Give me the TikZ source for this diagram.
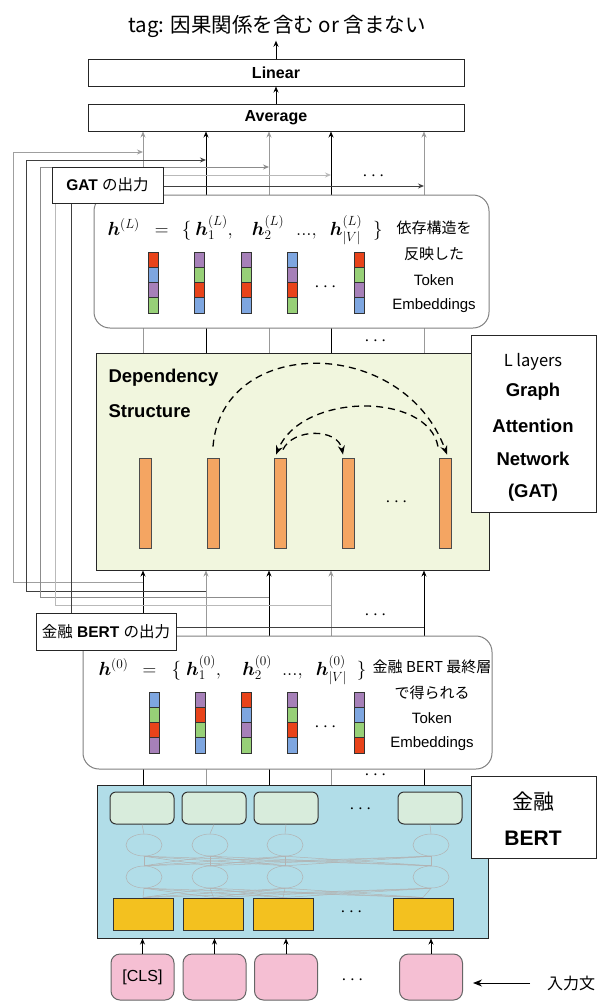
\RequirePackage{fix-cm}
\documentclass[tikz,border=0pt]{standalone}
\usepackage{amsmath,bm}
\usepackage[no-math]{fontspec}
\setmainfont{Liberation Sans}
\newfontfamily\jp{Noto Sans CJK JP}
\usepackage{tikz}
\usetikzlibrary{arrows.meta,shapes.geometric}
\pgfdeclarelayer{bg}
\pgfsetlayers{bg,main}
\definecolor{ered}{HTML}{E8431A}
\definecolor{eblue}{HTML}{7EA6E0}
\definecolor{epurple}{HTML}{A680B8}
\definecolor{egreen}{HTML}{97D077}
\definecolor{gatfill}{HTML}{F1F6DE}
\definecolor{bertfill}{HTML}{B1DDE8}
\definecolor{tokfill}{HTML}{D8ECDC}
\definecolor{embfill}{HTML}{F3C11F}
\definecolor{inpfill}{HTML}{F5BFD3}
\definecolor{depfill}{HTML}{F4A562}
\newcommand{\pxsize}[1]{\fontsize{#1}{#1}\selectfont}

\begin{document}
\begin{tikzpicture}[x=1pt,y=-1pt,>=Stealth,
	box/.style={draw=black!85,line width=1pt,fill=white,inner sep=0pt},
	hbox/.style={draw=black!50,line width=1pt,fill=white,rounded corners=16pt,inner sep=0pt},
	col/.style={line width=0.9pt},
	tip/.style={-{Stealth[length=6pt,width=5pt]}},
	cell/.style={draw=black!80,line width=1pt,inner sep=0pt,minimum width=10pt,minimum height=15.25pt},
	dep/.style={draw=black!70,line width=0.9pt,fill=depfill,inner sep=0pt,minimum width=12pt,minimum height=90pt},
	arc/.style={line width=1.3pt,dash pattern=on 7pt off 5pt,-{Stealth[length=9pt,width=7pt]}},
	tok/.style={draw=black!80,line width=1pt,fill=tokfill,rounded corners=6pt,inner sep=0pt,minimum width=64pt,minimum height=32pt},
	neu/.style={ellipse,draw=gray!60,line width=0.5pt,inner sep=0pt,minimum width=36pt,minimum height=22pt},
	faint/.style={draw=gray!60,line width=0.5pt},
	emb/.style={draw=black!80,line width=1pt,fill=embfill,inner sep=0pt,minimum width=60pt,minimum height=32pt},
	inp/.style={draw=black!60,line width=1pt,fill=inpfill,rounded corners=9pt,inner sep=0pt,minimum width=63pt,minimum height=46pt,font=\pxsize{16}},
	dots/.style={font=\pxsize{19}},
	note/.style={font=\pxsize{15}},
]
\useasboundingbox (0,0) rectangle (598,1001);

% columns
\foreach \c [count=\i] in {143,206,269,331,424}
	\coordinate (k\i) at (\c,0);

% output layers
\node[font=\jp\pxsize{20.5}] (tag) at (277,26) {tag: 因果関係を含む or 含まない};
\node[box,minimum width=376pt,minimum height=27pt,font=\bfseries\pxsize{16}] (lin) at (276,72.5) {Linear};
\node[box,minimum width=376pt,minimum height=27pt,font=\bfseries\pxsize{16}] (avg) at (276,117.5) {Average};
\draw[col,tip] (avg.north) -- (lin.south);
\draw[col,tip] (lin.north) -- (lin.north |- tag.south);

% GAT output
\node[hbox,minimum width=395pt,minimum height=133pt] (hL) at (291.5,261.5) {};
\node[box,minimum width=111pt,minimum height=36pt,font=\pxsize{15.5}] (gatout) at (107.5,185) {{\bfseries GAT} {\jp の出力}};
\node[anchor=west,font=\pxsize{19}] (fL) at (104,230) {$\bm{h}^{(L)}\hspace{10pt}=\hspace{8pt}\{\hspace{4pt}\bm{h}_1^{(L)},\hspace{16pt}\bm{h}_2^{(L)}\hspace{12pt}{.}{.}{.},\hspace{10pt}\bm{h}_{|V|}^{(L)}\hspace{11pt}\}$};
\foreach \x/\ca/\cb/\cc/\cd [count=\i] in {153/ered/eblue/epurple/egreen,199/epurple/egreen/ered/eblue,246/epurple/egreen/ered/eblue,292/eblue/epurple/ered/egreen,359/ered/egreen/epurple/eblue}
	\foreach \clr [count=\j] in {\ca,\cb,\cc,\cd}
		\node[cell,fill=\clr] (eL\i\j) at (\x,{244.4+15.25*\j}) {};
\node[dots] (dL) at (327,287) {$\cdots$};
\foreach \t/\f [count=\n] in {依存構造を/\jp,反映した/\jp,Token/,Embeddings/}
	\node[note] (nL\n) at (434,{228+26*(\n-1)}) {\f\t};

% GAT
\node[draw=black!85,line width=1pt,fill=gatfill,inner sep=0pt,minimum width=393pt,minimum height=217pt] (gat) at (292.5,461.5) {};
\node[anchor=west,font=\bfseries\pxsize{18.5}] (ds1) at (105,378) {Dependency};
\node[anchor=west,font=\bfseries\pxsize{18.5}] (ds2) at (105,411) {Structure};
\foreach \x [count=\i] in {145,213,280,348,445}
	\node[dep] (d\i) at (\x,503) {};
\node[dots] (dG) at (398,502) {$\cdots$};
\draw[arc] ([yshift=11pt]d2.north) .. controls (222,335) and (403,335) .. ([xshift=2pt,yshift=3pt]d5.north);
\draw[arc] ([xshift=-7pt,yshift=11pt]d5.north) .. controls (428,392) and (302,392) .. ([xshift=-4pt,yshift=3pt]d3.north);
\draw[arc] ([xshift=3pt,yshift=8pt]d3.north) .. controls (293,428) and (338,428) .. ([xshift=-5pt,yshift=3pt]d4.north);
\node[box,minimum width=125pt,minimum height=177pt] (gatlab) at (533.5,423.5) {};
\node[font=\jp\pxsize{16.5}] (gl0) at (533,362) {L layers};
\foreach \t [count=\n] in {Graph,Attention,Network,(GAT)}
	\node[font=\bfseries\pxsize{18.5}] (gl\n) at (533,{392+33.5*(\n-1)}) {\t};

% BERT output
\node[hbox,minimum width=409pt,minimum height=133pt] (h0) at (287.5,702.5) {};
\node[box,minimum width=140pt,minimum height=37pt,font=\pxsize{15.5}] (bertout) at (106,631.5) {{\jp 金融} {\bfseries BERT} {\jp の出力}};
\node[anchor=west,font=\pxsize{19}] (f0) at (95,670) {$\bm{h}^{(0)}\hspace{9pt}=\hspace{10pt}\{\hspace{5pt}\bm{h}_1^{(0)},\hspace{18pt}\bm{h}_2^{(0)}\hspace{10pt}{.}{.}{.},\hspace{10pt}\bm{h}_{|V|}^{(0)}\hspace{10pt}\}$};
\foreach \x/\ca/\cb/\cc/\cd [count=\i] in {154/eblue/egreen/ered/epurple,200/epurple/ered/egreen/eblue,246/ered/eblue/epurple/egreen,292/epurple/egreen/ered/eblue,359/epurple/eblue/egreen/ered}
	\foreach \clr [count=\j] in {\ca,\cb,\cc,\cd}
		\node[cell,fill=\clr] (e0\i\j) at (\x,{684.4+15.25*\j}) {};
\node[dots] (d0) at (327,727) {$\cdots$};
\foreach \t/\f [count=\n] in {金融 BERT 最終層/\jp,で得られる/\jp,Token/,Embeddings/}
	\node[note] (n0\n) at (432,{667+25.7*(\n-1)}) {\f\t};

% BERT
\node[draw=black!85,line width=1pt,fill=bertfill,inner sep=0pt,minimum width=391pt,minimum height=153pt] (bert) at (292.5,861.5) {};
\foreach \x [count=\i] in {142,214,286,430}
	\node[tok] (t\i) at (\x,808) {};
\foreach \x [count=\i] in {144,210,285,431}{
	\node[neu] (u\i) at (\x,845) {};
	\node[neu] (v\i) at (\x,877) {};
}
\foreach \x [count=\i] in {143,213.5,283,423}
	\node[emb] (y\i) at (\x,914) {};
\foreach \i in {1,...,4}{
	\draw[faint] (t\i.south) -- (u\i.north);
	\foreach \j in {1,...,4}{
		\draw[faint] (u\i.south) -- (v\j.north);
		\draw[faint] (v\i.south) -- (y\j.north);
	}
}
\node[dots] (dt) at (362,809) {$\cdots$};
\node[dots] (dy) at (353,912) {$\cdots$};
\node[box,minimum width=125pt,minimum height=82pt] (bertlab) at (533.5,817) {};
\node[font=\jp\pxsize{21}] (bl1) at (533,802) {金融};
\node[font=\bfseries\pxsize{21}] (bl2) at (533,838) {BERT};

% input tokens
\foreach \x/\t [count=\i] in {142.5/{[CLS]},214.5/{},286/{},431/{}}{
	\node[inp] (p\i) at (\x,977) {\t};
	\draw[col,tip] (p\i.north) -- (p\i.north |- bert.south);
}
\node[dots] (dp) at (354,980) {$\cdots$};
\node[anchor=west,inner sep=2pt,font=\jp\pxsize{16}] (inp) at (545,983) {入力文};
\coordinate (inpend) at (473,983);
\draw[line width=1pt,-{Stealth[length=9pt,width=7pt]}] ([xshift=-15pt]inp.west) -- (inpend);

% connectors under the boxes
\begin{pgfonlayer}{bg}
	\foreach \i/\up/\lo in {1/gray!80/black,2/black/gray!80,3/gray!80/black,4/black/gray!80,5/gray!80/black}{
		\draw[col,draw=\up,tip] (gat.north -| k\i) -- (avg.south -| k\i);
		\draw[col,draw=\lo,tip] (bert.north -| k\i) -- (gat.south -| k\i);
	}
	\foreach \l/\t/\b/\clr [count=\i] in {13/152/582/gray!75,26/160/591/black!75,40/167/597/gray!90,55/175/605/gray!55,71/186/627/black!75}
		\draw[col,draw=\clr,tip] (k\i |- 0,\b) -| (\l,\t) -- (k\i |- 0,\t);
\end{pgfonlayer}
\node[dots] (dA) at (375,176) {$\cdots$};
\node[dots] (dM) at (377,341) {$\cdots$};
\node[dots] (dB) at (377,615) {$\cdots$};
\node[dots] (dC) at (377,775) {$\cdots$};
\end{tikzpicture}
\end{document}
